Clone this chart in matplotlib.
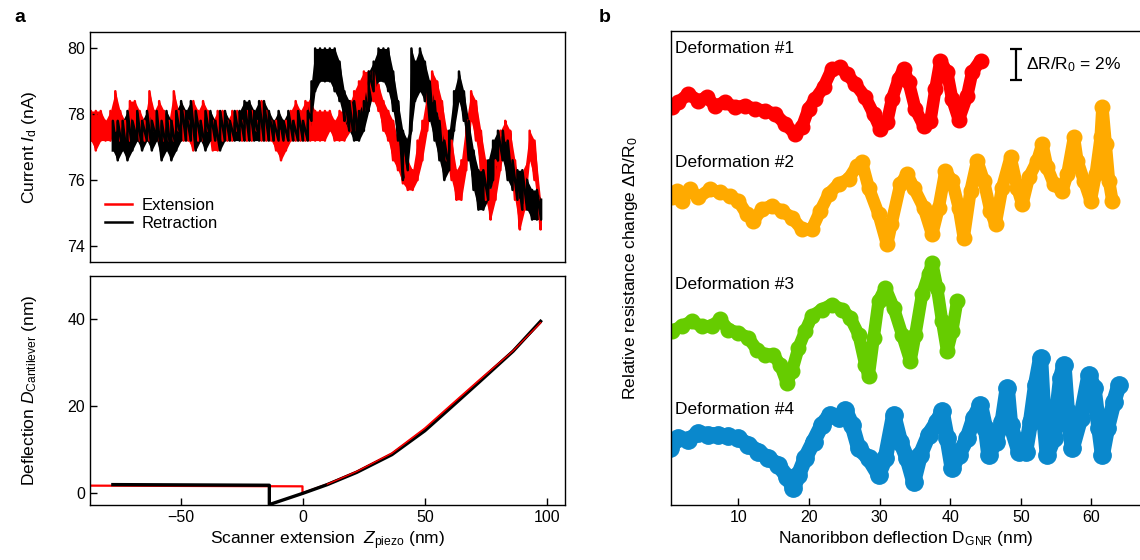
import numpy as np
import matplotlib
matplotlib.use('Agg')
import matplotlib.pyplot as plt

plt.rcParams['font.family'] = ['Liberation Sans', 'DejaVu Sans']
plt.rcParams['mathtext.fontset'] = 'custom'
plt.rcParams['mathtext.rm'] = 'Liberation Sans'
plt.rcParams['mathtext.it'] = 'Liberation Sans:italic'
plt.rcParams['axes.linewidth'] = 1.0

# ── panel a, top: current vs scanner extension (noise band: low / high) ──
ext_z = [-87, -85, -83, -81, -79, -77, -75, -73, -71, -69, -67, -65, -63, -61,
         -59, -57, -55, -53, -51, -49, -47, -45, -43, -41, -39, -37, -35, -33,
         -31, -29, -27, -25, -23, -21, -19, -17, -15, -13, -11, -9, -7, -5, -3,
         -1, 1, 3, 5, 7, 9, 11, 13, 15, 17,
         19.5, 21, 23, 25, 27, 29, 31, 33, 35, 37, 39, 41, 43, 45, 47, 49, 51,
         53, 55, 57, 59, 61, 63, 65, 67, 69, 71, 73, 75, 77, 79, 81, 83, 85,
         87, 89, 91, 93, 95, 97.5]
ext_lo = [77.2, 76.9, 77.2, 77.2, 77.2, 77.5, 77.2, 77.2, 77.2, 77.5, 77.2, 77.2,
          77.2, 77.5, 77.2, 77.2, 77.2, 77.2, 77.5, 77.2, 77.2, 76.9, 77.2, 77.2,
          77.5, 76.9, 76.9, 77.2, 77.2, 77.2, 77.5, 77.2, 77.2, 77.2, 77.5, 77.2,
          77.2, 77.2, 76.9, 76.6, 76.9, 77.2, 77.2, 77.2, 77.2, 77.2, 77.2, 77.2,
          77.2, 77.5, 77.2, 77.2, 77.2,
          77.5, 77.5, 77.8, 78.1, 78.4, 78.4, 78.1, 77.5, 77.2, 76.6, 76.3, 75.9,
          75.7, 75.7, 76.0, 76.6, 77.5, 78.4, 78.1, 77.2, 76.6, 76.0, 75.4, 75.4,
          76.3, 77.8, 77.2, 76.3, 75.4, 74.8, 75.4, 76.3, 77.2, 76.6, 75.4, 74.5,
          75.1, 76.6, 76.0, 74.5]
ext_hi = [78.1, 78.1, 78.1, 77.8, 78.1, 78.7, 78.1, 77.8, 78.4, 78.4, 78.1, 77.8,
          78.7, 78.1, 78.4, 78.1, 77.8, 78.7, 78.1, 78.1, 77.8, 78.4, 78.1, 78.4,
          78.1, 77.8, 78.1, 78.1, 77.8, 78.1, 78.1, 77.8, 78.1, 78.1, 77.8, 78.4,
          78.1, 77.8, 77.8, 77.5, 77.8, 78.1, 78.4, 78.1, 78.4, 78.4, 78.1, 78.1,
          78.1, 78.1, 77.8, 78.1, 78.1,
          78.4, 78.7, 79.0, 79.3, 79.3, 79.3, 78.9, 78.4, 78.1, 77.8, 77.2, 76.9,
          76.6, 76.3, 77.2, 77.8, 78.7, 79.3, 79.0, 78.4, 77.5, 77.2, 76.3, 76.6,
          77.8, 78.7, 78.4, 77.5, 76.6, 75.7, 76.6, 77.5, 77.8, 77.5, 76.6, 75.4,
          76.3, 77.5, 77.2, 75.4]

ret_z = [-78, -76, -74, -72, -70, -68, -66, -64, -62, -60, -58, -56, -54, -52,
         -50, -48, -46, -44, -42, -40, -38, -36, -34, -32, -30, -28, -26, -24,
         -22, -20, -18, -16, -14, -12, -10, -8, -6, -4, -2, 0, 2,
         3.5, 5, 7, 9, 11, 13, 15, 17, 19, 21, 23, 25, 27, 29, 31, 33, 35, 37,
         39, 41, 43, 44.5, 46, 48, 50, 52, 54, 56, 58, 60, 62, 64, 66, 68, 70,
         72, 74, 76, 78, 80, 82, 84, 86, 88, 90, 92, 94, 96, 97.7]
ret_lo = [76.9, 76.6, 76.9, 76.6, 76.9, 77.2, 76.9, 77.2, 76.9, 77.2, 76.6, 76.9,
          76.6, 76.9, 77.2, 77.2, 77.2, 76.9, 77.2, 76.9, 77.2, 77.2, 76.9, 77.2,
          77.2, 77.2, 77.2, 77.2, 77.2, 77.2, 77.2, 77.2, 77.2, 77.2, 77.2, 77.2,
          77.2, 77.2, 77.2, 77.2, 77.2,
          77.8, 78.7, 79.0, 79.0, 79.0, 78.7, 78.4, 77.8, 77.5, 77.2, 77.2, 77.5,
          78.1, 78.7, 79.0, 79.0, 78.7, 78.1, 77.2, 76.0, 76.3, 77.5, 78.4, 78.7,
          78.4, 77.8, 77.2, 76.6, 76.0, 76.3, 77.5, 78.4, 77.8, 76.6, 75.7, 75.1,
          75.1, 75.4, 76.0, 76.6, 76.6, 76.0, 75.7, 75.4, 75.1, 75.1, 74.8, 74.8,
          74.8]
ret_hi = [77.8, 77.8, 77.8, 78.1, 77.8, 78.1, 77.8, 78.1, 77.8, 78.1, 77.8, 78.1,
          77.8, 78.1, 78.4, 78.1, 78.4, 78.1, 77.8, 78.1, 78.1, 77.8, 78.1, 78.1,
          77.8, 78.1, 78.1, 78.4, 78.4, 78.1, 78.4, 78.4, 78.1, 77.8, 78.1, 77.8,
          78.1, 77.8, 78.1, 77.8, 78.1,
          79.0, 80.0, 80.0, 80.0, 80.0, 80.0, 79.6, 78.7, 78.4, 78.4, 78.1, 78.4,
          79.3, 79.6, 80.0, 80.0, 80.0, 79.3, 78.4, 77.5, 77.2, 80.0, 79.6, 80.0,
          79.6, 79.0, 78.4, 77.8, 77.2, 77.5, 78.7, 79.3, 78.7, 77.8, 76.9, 76.3,
          76.3, 76.6, 77.2, 77.5, 77.5, 77.2, 76.6, 76.3, 76.3, 76.0, 75.7, 75.7,
          75.4]

# ── panel a, bottom: cantilever deflection ──
ext_dz = [-87.4, -0.2, -0.2, 10, 22, 36.5, 50, 60, 72.5, 86.2, 97.5]
ext_dd = [1.66, 1.5, -0.1, 2.0, 4.9, 9.1, 14.8, 19.8, 26.0, 32.7, 39.2]
ret_dz = [-78, -13.8, -13.8, 0, 10, 22, 36.5, 50, 60, 72.5, 86.2, 97.5]
ret_dd = [1.9, 1.75, -2.7, -0.1, 1.9, 4.7, 8.8, 14.3, 19.3, 25.6, 32.6, 39.5]

# ── panel b: relative resistance change (offset traces, %) ──
d1_x = [0.55, 1.49, 2.91, 4.33, 5.52, 6.70, 8.11, 9.53, 10.95, 12.37, 13.79,
        15.21, 16.63, 18.04, 18.99, 19.93, 20.88, 22.06, 23.25, 24.43, 25.38,
        26.55, 27.97, 29.15, 30.10, 31.05, 31.76, 32.70, 33.40, 34.11, 35.06,
        36.24, 37.19, 37.90, 38.61, 39.56, 40.27, 41.21, 42.40, 43.11, 44.29]
d1_y = [25.59, 25.92, 26.45, 26.02, 26.24, 25.70, 25.92, 25.59, 25.70, 25.48,
        25.37, 25.16, 24.52, 23.87, 24.30, 25.48, 26.13, 26.88, 28.06, 28.17,
        27.74, 27.10, 26.24, 25.16, 24.19, 24.63, 26.13, 27.42, 28.06, 27.21,
        25.48, 24.41, 24.73, 26.77, 28.6, 27.85, 26.13, 24.8, 26.34, 27.85, 28.6]

d2_x = [0.55, 1.26, 1.97, 3.15, 4.33, 5.99, 7.38, 8.82, 10.0, 11.19, 12.13,
        13.32, 14.74, 16.16, 17.57, 18.99, 20.41, 21.59, 22.77, 24.18, 25.60,
        26.79, 27.50, 28.44, 29.86, 31.05, 31.66, 32.94, 33.89, 34.82, 36.24,
        37.43, 38.37, 39.32, 40.27, 41.21, 41.91, 42.87, 43.82, 44.75, 45.70,
        46.41, 47.36, 48.54, 49.49, 50.20, 51.13, 52.33, 53.04, 53.74, 54.68,
        55.87, 56.58, 57.52, 58.0, 58.94, 59.89, 60.60, 61.30, 61.55, 62.01,
        62.48, 62.96]
d2_y = [19.79, 20.21, 19.57, 20.32, 19.79, 20.32, 20.11, 19.89, 19.57, 18.71,
        18.28, 19.03, 19.25, 18.92, 18.50, 17.74, 17.74, 18.92, 20.0, 20.65,
        20.97, 21.83, 22.05, 20.43, 18.71, 16.77, 18.06, 20.65, 21.29, 20.43,
        19.14, 17.42, 19.14, 21.50, 20.86, 19.14, 17.21, 20.21, 22.15, 20.86,
        18.92, 18.06, 20.43, 22.37, 20.43, 19.35, 21.08, 22.15, 23.23, 21.72,
        20.65, 20.21, 21.29, 23.66, 22.15, 20.86, 19.57, 21.29, 23.66, 25.59,
        23.23, 20.86, 19.57]

d3_x = [0.55, 1.97, 3.39, 4.81, 6.23, 7.40, 8.58, 10.0, 11.42, 12.61, 13.79,
        14.96, 15.91, 16.86, 17.57, 18.51, 19.46, 20.41, 21.83, 23.25, 24.67,
        25.84, 27.02, 27.97, 28.44, 29.15, 29.86, 30.81, 31.99, 33.18, 34.36,
        35.06, 36.01, 36.95, 37.43, 38.14, 38.85, 39.56, 40.27, 40.98]
d3_y = [11.18, 11.50, 11.83, 11.50, 11.50, 11.94, 11.29, 11.08, 10.75, 10.0,
        9.68, 9.68, 9.03, 7.85, 8.60, 10.11, 11.18, 12.15, 12.58, 12.90,
        12.58, 12.05, 10.97, 9.03, 8.28, 10.75, 13.12, 13.98, 12.69, 10.97,
        9.25, 10.97, 13.55, 14.84, 15.59, 13.98, 11.83, 9.89, 11.18, 13.12]

d4_x = [0.31, 1.49, 2.91, 4.33, 5.74, 7.16, 8.58, 10.0, 11.42, 12.84, 14.26,
        15.67, 16.87, 17.80, 18.51, 19.46, 20.64, 21.83, 23.01, 24.18, 25.13,
        26.09, 27.02, 28.44, 29.86, 30.81, 31.99, 32.94, 33.89, 34.82, 35.77,
        36.95, 38.14, 38.85, 39.56, 40.27, 41.21, 42.40, 43.33, 44.28, 44.99,
        45.46, 46.41, 47.36, 48.07, 48.54, 49.72, 50.67, 51.38, 52.09, 52.79,
        53.26, 53.74, 54.68, 55.63, 56.10, 56.58, 57.29, 58.47, 59.65, 60.35,
        61.06, 61.55, 62.26, 63.19, 63.90]
d4_y = [3.66, 4.30, 4.19, 4.63, 4.52, 4.52, 4.41, 4.30, 3.87, 3.44, 3.01,
        2.58, 1.83, 1.08, 1.94, 3.01, 4.08, 5.16, 5.81, 5.59, 6.13, 5.16,
        3.66, 3.01, 1.94, 3.01, 5.81, 4.08, 3.01, 1.50, 3.23, 4.52, 5.37,
        6.02, 4.30, 2.37, 3.23, 4.30, 5.59, 6.45, 4.95, 3.23, 4.08, 5.37,
        7.53, 5.16, 3.44, 3.44, 5.37, 7.74, 9.46, 5.59, 3.23, 4.30, 8.17,
        9.03, 6.02, 3.66, 5.59, 8.39, 7.53, 4.95, 3.23, 4.95, 6.66, 7.74]

traces = [('Deformation #1', d1_x, d1_y, '#ff0000', 9),
          ('Deformation #2', d2_x, d2_y, '#ffaa00', 9),
          ('Deformation #3', d3_x, d3_y, '#66cc00', 9),
          ('Deformation #4', d4_x, d4_y, '#0a88cc', 11)]
label_y = [29.35, 22.05, 14.2, 6.13]


def zigzag(x, lo, hi):
    # alternate low/high readings so the band looks like a noisy trace
    xs = np.repeat(x, 2)
    ys = np.column_stack([lo, hi]).ravel()
    return xs, ys


def noisy_band(ax, x, lo, hi, color, label):
    ax.fill_between(x, lo, hi, color=color, lw=0)
    xs, ys = zigzag(x, lo, hi)
    ax.plot(xs, ys, color=color, lw=1.8, label=label)


fig = plt.figure(figsize=(11.4, 5.6), dpi=100)

ax1 = fig.add_axes([0.0789, 0.5327, 0.4169, 0.4096])
ax2 = fig.add_axes([0.0789, 0.0982, 0.4169, 0.4095])
ax3 = fig.add_axes([0.5883, 0.0982, 0.4125, 0.8464])

for ax in (ax1, ax2, ax3):
    ax.tick_params(direction='in', length=5, width=1, labelsize=11.5)

# top left
noisy_band(ax1, ext_z, ext_lo, ext_hi, 'red', 'Extension')
noisy_band(ax1, ret_z, ret_lo, ret_hi, 'black', 'Retraction')
ax1.set_xlim(-87.4, 107.6)
ax1.set_ylim(73.52, 80.49)
ax1.set_yticks([74, 76, 78, 80])
ax1.set_xticks([])
ax1.set_ylabel('Current $I_\\mathrm{d}$ (nA)', fontsize=12.5)
ax1.yaxis.set_label_coords(-0.108, 0.5)
ax1.legend(loc='lower left', bbox_to_anchor=(0.0, 0.07), frameon=False,
           fontsize=12, handlelength=1.6, handletextpad=0.6, labelspacing=0.15)

# bottom left
ax2.plot(ext_dz, ext_dd, color='red', lw=1.6)
ax2.plot(ret_dz, ret_dd, color='black', lw=2.4)
ax2.plot(ext_dz[3:], ext_dd[3:], color='red', lw=0.9)
ax2.set_xlim(-87.4, 107.6)
ax2.set_ylim(-2.8, 50)
ax2.set_xticks([-50, 0, 50, 100])
ax2.set_yticks([0, 20, 40])
ax2.set_xlabel('Scanner extension  $Z_\\mathrm{piezo}$ (nm)', fontsize=12.5,
               labelpad=3)
ax2.set_ylabel('Deflection $D_\\mathrm{Cantilever}$ (nm)', fontsize=12.5)
ax2.yaxis.set_label_coords(-0.108, 0.5)

# right panel
for (name, x, y, c, w), ly in zip(traces, label_y):
    ax3.plot(x, y, color=c, lw=w, marker='o', ms=w + 1.5, mec=c,
             solid_capstyle='round', solid_joinstyle='round')
    ax3.text(1.0, ly, name, fontsize=12.5, va='center', ha='left')

ax3.errorbar([49.25], [28.35], yerr=[1.0], color='black', lw=1.6,
             capsize=4, capthick=1.6)
ax3.text(50.7, 28.35, '$\\Delta$R/R$_0$ = 2%', fontsize=12.5, va='center')
ax3.set_xlim(0.41, 67.0)
ax3.set_ylim(0, 30.5)
ax3.set_yticks([])
ax3.set_xticks([10, 20, 30, 40, 50, 60])
ax3.spines['right'].set_visible(False)
ax3.set_xlabel('Nanoribbon deflection D$_\\mathrm{GNR}$ (nm)', fontsize=12.5,
               labelpad=3)
ax3.set_ylabel('Relative resistance change $\\Delta$R/R$_0$', fontsize=12.5)
ax3.yaxis.set_label_coords(-0.065, 0.5)

fig.text(0.013, 0.968, 'a', fontsize=14, fontweight='bold', va='center')
fig.text(0.525, 0.968, 'b', fontsize=14, fontweight='bold', va='center')

fig.savefig('out.png', dpi=100)
